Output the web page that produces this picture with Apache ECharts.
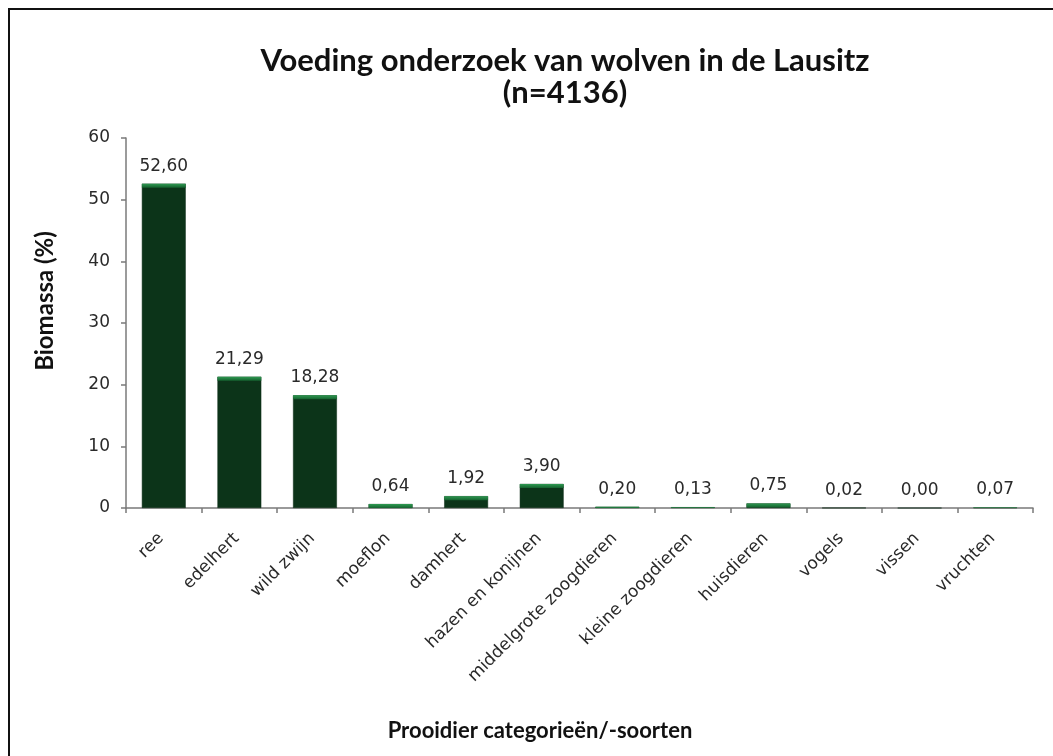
<!DOCTYPE html>
<html>
<head>
<meta charset="utf-8">
<script src="https://cdn.jsdelivr.net/npm/echarts@6/dist/echarts.min.js"></script>
<style>
html,body{margin:0;padding:0;background:#fff;}
#chart{width:1053px;height:756px;}
</style>
</head>
<body>
<div id="chart"></div>
<script>
const categories = ['ree','edelhert','wild zwijn','moeflon','damhert','hazen en konijnen','middelgrote zoogdieren','kleine zoogdieren','huisdieren','vogels','vissen','vruchten'];
const biomassa = [52.60, 21.29, 18.28, 0.64, 1.92, 3.90, 0.20, 0.13, 0.75, 0.02, 0.00, 0.07];
const yTicks = [0, 10, 20, 30, 40, 50, 60];
const titleText = 'Voeding onderzoek van wolven in de Lausitz';
const subtitleText = '(n=4136)';
const yTitle = 'Biomassa (%)';
const xTitle = 'Prooidier categorieën/-soorten';

const chart = echarts.init(document.getElementById('chart'), null, {renderer: 'canvas'});
const BAR_FRAC = 0.58;
const option = {
  backgroundColor: '#ffffff',
  animation: false,
  title: {
    text: titleText + '\n' + subtitleText,
    left: 560,
    top: 40,
    textAlign: 'center',
    textStyle: {fontFamily: 'Lato', fontWeight: 'bold', fontSize: 31, lineHeight: 32, color: '#111'}
  },
  grid: {left: 126, right: 20, top: 138, bottom: 248, containLabel: false},
  xAxis: {
    type: 'category',
    data: categories,
    axisLine: {lineStyle: {color: '#7a7a7a', width: 1.5}},
    axisTick: {show: true, length: 5, alignWithLabel: false, lineStyle: {color: '#7a7a7a', width: 1.5}},
    axisLabel: {rotate: 45, interval: 0, margin: 25, padding: [0, 4, 0, 0], fontFamily: 'DejaVu Sans', fontSize: 17, color: '#2a2a2a'}
  },
  yAxis: {
    type: 'value',
    min: yTicks[0],
    max: yTicks[yTicks.length - 1],
    interval: 10,
    splitLine: {show: false},
    axisLine: {show: true, lineStyle: {color: '#7a7a7a', width: 1.5}},
    axisTick: {show: true, length: 5, lineStyle: {color: '#7a7a7a', width: 1.5}},
    axisLabel: {margin: 16, fontFamily: 'DejaVu Sans', fontSize: 17, color: '#2a2a2a'}
  },
  graphic: [
    {type: 'polyline', shape: {points: [[9, 760], [9, 9], [1060, 9]]}, style: {stroke: '#111', lineWidth: 2, fill: null}},
    {type: 'text', x: 45, y: 301, rotation: Math.PI / 2,
      style: {text: yTitle, fontFamily: 'Lato', fontWeight: 'bold', fontSize: 24, fill: '#111', align: 'center', verticalAlign: 'middle'}},
    {type: 'text', x: 540, y: 731,
      style: {text: xTitle, fontFamily: 'Lato', fontWeight: 'bold', fontSize: 22, fill: '#111', align: 'center', verticalAlign: 'middle'}}
  ],
  series: [
    {
      type: 'bar',
      data: biomassa,
      barWidth: (BAR_FRAC * 100) + '%',
      itemStyle: {color: '#0c3419', borderColor: '#0a2a15', borderWidth: 0.5},
      label: {
        show: true, position: 'top', distance: 9,
        fontFamily: 'DejaVu Sans', fontSize: 17, color: '#2a2a2a',
        formatter: p => p.value.toFixed(2).replace('.', ',')
      },
      z: 2
    },
    {
      type: 'custom',
      data: biomassa.map((v, i) => [i, v]),
      encode: {x: 0, y: 1},
      z: 3,
      silent: true,
      renderItem: function (params, api) {
        const top = api.coord([api.value(0), api.value(1)]);
        const base = api.coord([api.value(0), 0]);
        const w = api.size([1, 0])[0] * BAR_FRAC;
        const h = Math.min(4, base[1] - top[1]);
        if (h <= 0) return null;
        return {
          type: 'rect',
          shape: {x: top[0] - w / 2, y: top[1], width: w, height: h},
          style: {fill: new echarts.graphic.LinearGradient(0, 0, 0, 1, [
            {offset: 0, color: '#2f9a52'}, {offset: 1, color: '#15622f'}
          ])}
        };
      }
    }
  ]
};
chart.setOption(option);
</script>
</body>
</html>
